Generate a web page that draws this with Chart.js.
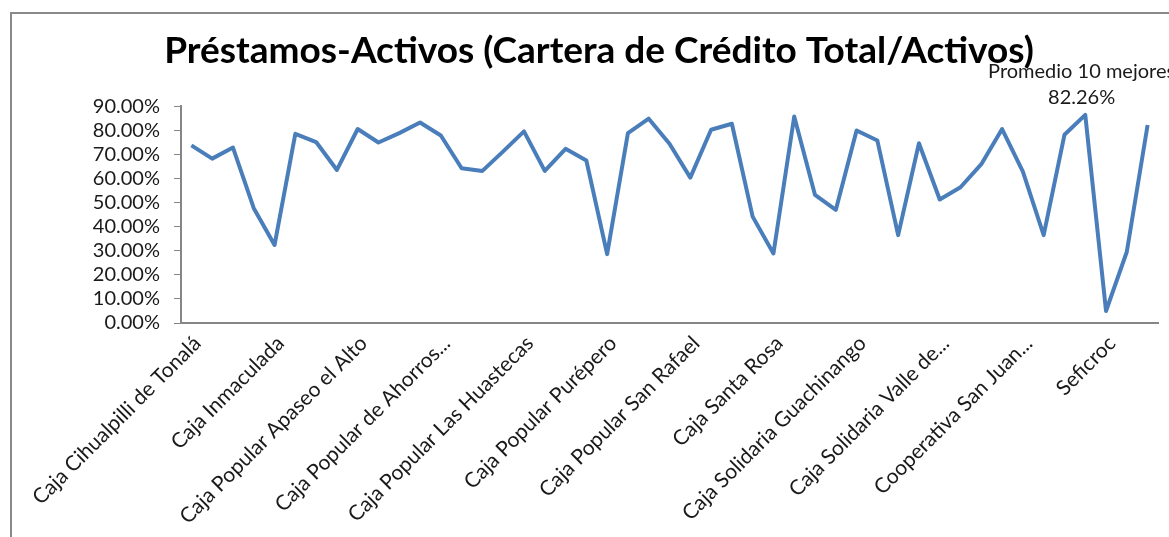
<!DOCTYPE html>
<html>
<head>
<meta charset="utf-8">
<script src="https://cdn.jsdelivr.net/npm/chart.js@4"></script>
<style>
    body { margin: 0; overflow: hidden; background: #fff; }
    #frame {
        position: absolute; left: 10px; top: 12px;
        width: 1180px; height: 560px;
        border-left: 2px solid #898989; border-top: 2px solid #898989;
    }
</style>
</head>
<body>
<div id="frame"><canvas id="prestamosChart" width="1180" height="560"></canvas></div>
<script>
// categories: only every 4th name is printed on the axis, the rest are unreadable
const categories = [
    'Caja Cihualpilli de Tonalá', '', '', '',
    'Caja Inmaculada', '', '', '',
    'Caja Popular Apaseo el Alto', '', '', '',
    'Caja Popular de Ahorros...', '', '', '',
    'Caja Popular Las Huastecas', '', '', '',
    'Caja Popular Purépero', '', '', '',
    'Caja Popular San Rafael', '', '', '',
    'Caja Santa Rosa', '', '', '',
    'Caja Solidaria Guachinango', '', '', '',
    'Caja Solidaria Valle de...', '', '', '',
    'Cooperativa San Juan...', '', '', '',
    'Seficroc', '', 'Promedio 10 mejores'
];

const prestamosActivos = [
    0.738, 0.683, 0.729, 0.477, 0.324, 0.786, 0.752, 0.636, 0.806, 0.750,
    0.789, 0.833, 0.779, 0.643, 0.632, 0.713, 0.796, 0.632, 0.724, 0.675,
    0.286, 0.789, 0.849, 0.745, 0.604, 0.803, 0.828, 0.442, 0.289, 0.858,
    0.532, 0.470, 0.800, 0.758, 0.365, 0.747, 0.513, 0.564, 0.660, 0.806,
    0.629, 0.365, 0.782, 0.865, 0.050, 0.296, 0.8226
];

const yTicks = [0, 0.1, 0.2, 0.3, 0.4, 0.5, 0.6, 0.7, 0.8, 0.9];

const axisGray = '#868686';
const lineBlue = '#4A7EBB';
const textFont = 'Lato, "Open Sans", sans-serif';

const pct = v => (v * 100).toFixed(2) + '%';

// label on the last point (category name + value), nudged left like in Excel
const lastPointLabel = {
    id: 'lastPointLabel',
    afterDatasetsDraw(chart) {
        const meta = chart.getDatasetMeta(0);
        const i = prestamosActivos.length - 1;
        const pt = meta.data[i];
        const ctx = chart.ctx;
        ctx.save();
        ctx.font = '20px ' + textFont;
        ctx.fillStyle = '#1a1a1a';
        ctx.textAlign = 'center';
        ctx.textBaseline = 'middle';
        const x = pt.x - 66;
        ctx.fillText(categories[i], x, pt.y - 53);
        ctx.fillText(pct(prestamosActivos[i]), x, pt.y - 27);
        ctx.restore();
    }
};

new Chart(document.getElementById('prestamosChart'), {
    type: 'line',
    data: {
        labels: categories,
        datasets: [{
            label: 'Préstamos-Activos',
            data: prestamosActivos,
            borderColor: lineBlue,
            borderWidth: 4,
            borderJoinStyle: 'round',
            pointRadius: 0,
            tension: 0,
            fill: false
        }]
    },
    options: {
        responsive: false,
        animation: false,
        layout: { padding: { left: 28, right: 34, top: 0, bottom: 0 } },
        plugins: {
            legend: { display: false },
            tooltip: { enabled: false },
            title: {
                display: true,
                text: 'Préstamos-Activos (Cartera de Crédito Total/Activos)',
                color: '#000',
                font: { family: textFont, size: 37, weight: 'bold', lineHeight: 1.2 },
                padding: { top: 15, bottom: 33 }
            }
        },
        scales: {
            x: {
                offset: true,
                grid: { display: false, drawTicks: false },
                border: { display: true, color: axisGray, width: 2 },
                ticks: {
                    autoSkip: false,
                    maxRotation: 45,
                    minRotation: 45,
                    padding: 8,
                    labelOffset: 6,
                    color: '#1a1a1a',
                    font: { family: textFont, size: 21 },
                    callback: (v, i) => (i % 4 === 0 ? categories[i] : '')
                },
                afterFit(axis) { axis.height = 251; }
            },
            y: {
                min: 0,
                max: 0.9,
                afterBuildTicks(axis) { axis.ticks = yTicks.map(v => ({ value: v })); },
                grid: {
                    display: true,
                    drawOnChartArea: false,
                    drawTicks: true,
                    tickLength: 7,
                    color: axisGray
                },
                border: { display: true, color: axisGray, width: 2 },
                ticks: {
                    autoSkip: false,
                    padding: 14,
                    color: '#1a1a1a',
                    font: { family: textFont, size: 20 },
                    callback: v => pct(v)
                },
                afterFit(axis) { axis.width = 141; }
            }
        }
    },
    plugins: [lastPointLabel]
});
</script>
</body>
</html>
